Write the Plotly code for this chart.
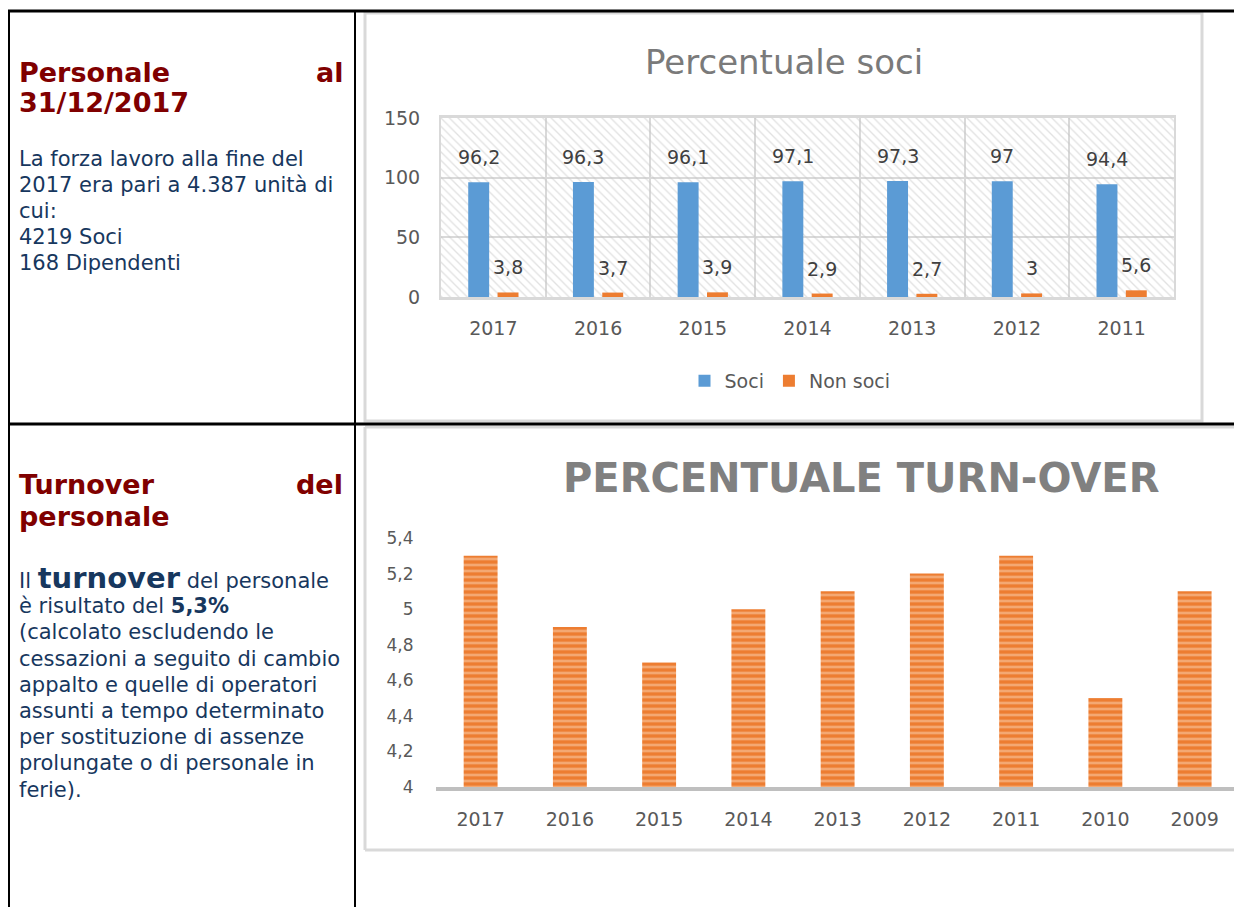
import plotly.graph_objects as go

# ---------------- data ----------------
soci_years = ["2017", "2016", "2015", "2014", "2013", "2012", "2011"]
soci_values = [96.2, 96.3, 96.1, 97.1, 97.3, 97, 94.4]
non_soci_values = [3.8, 3.7, 3.9, 2.9, 2.7, 3, 5.6]
soci_ticks = [0, 50, 100, 150]

turn_years = ["2017", "2016", "2015", "2014", "2013", "2012", "2011", "2010", "2009"]
turn_values = [5.3, 4.9, 4.7, 5.0, 5.1, 5.2, 5.3, 4.5, 5.1]
turn_ticks = [4, 4.2, 4.4, 4.6, 4.8, 5, 5.2, 5.4]

W, H = 1234, 907


def px(x):
    return min(max(x / W, 0), 1)


def py(y):
    return min(max(1 - y / H, 0), 1)


def fmt(v):
    return f"{v:g}".replace(".", ",")


FONT = "DejaVu Sans"
GRAY_TXT = "#595959"
GRID = "#D9D9D9"
BLUE = "#5B9BD5"
ORANGE = "#ED7D31"

fig = go.Figure()

# hatched plot-area background of the first chart
fig.add_trace(go.Bar(
    x=soci_years, y=[max(soci_ticks)] * len(soci_years),
    width=1, offset=-0.5, showlegend=False, hoverinfo="skip",
    marker=dict(color="rgba(0,0,0,0)", line=dict(width=0),
                pattern=dict(shape="\\", fgcolor="#C4C4C4", bgcolor="rgba(0,0,0,0)",
                             size=6, solidity=0.22)),
    xaxis="x", yaxis="y",
))
fig.add_trace(go.Bar(
    x=soci_years, y=soci_values, name="Soci", width=0.2, offset=-0.24,
    marker=dict(color=BLUE, line=dict(width=0)), xaxis="x", yaxis="y",
))
fig.add_trace(go.Bar(
    x=soci_years, y=non_soci_values, name="Non soci", width=0.2, offset=0.04,
    marker=dict(color=ORANGE, line=dict(width=0)), xaxis="x", yaxis="y",
))

# turnover chart
fig.add_trace(go.Bar(
    x=turn_years, y=turn_values, showlegend=False,
    marker=dict(color=ORANGE, line=dict(width=0),
                pattern=dict(shape="-", fgcolor="#FBD3B4", bgcolor=ORANGE,
                             size=6, solidity=0.45)),
    xaxis="x2", yaxis="y2",
))

annotations = []
# data labels (positioned on the category index of the axis)
cat_px = (1174 - 441) / len(soci_years)
for i, v in enumerate(soci_values):
    annotations.append(dict(x=i, y=v, xref="x", yref="y", text=fmt(v), showarrow=False,
                            xshift=-0.14 * cat_px, yshift=25, yanchor="middle",
                            font=dict(family=FONT, size=19, color="#404040")))
for i, v in enumerate(non_soci_values):
    annotations.append(dict(x=i, y=v, xref="x", yref="y", text=fmt(v), showarrow=False,
                            xshift=0.14 * cat_px, yshift=25, yanchor="middle",
                            font=dict(family=FONT, size=19, color="#404040")))

# chart titles
annotations.append(dict(x=px(784), y=py(62), xref="paper", yref="paper", showarrow=False,
                        text="Percentuale soci", xanchor="center", yanchor="middle",
                        font=dict(family=FONT, size=34, color="#7A7A7A")))
annotations.append(dict(x=px(861), y=py(478), xref="paper", yref="paper", showarrow=False,
                        text="<b>PERCENTUALE TURN-OVER</b>", xanchor="center", yanchor="middle",
                        font=dict(family=FONT, size=40, color="#808080")))

# left column text
RED = "#800000"
NAVY = "#17375E"


def txt(x, y, t, size, color, anchor="left"):
    annotations.append(dict(x=px(x), y=py(y), xref="paper", yref="paper", showarrow=False,
                            text=t, xanchor=anchor, yanchor="middle",
                            font=dict(family=FONT, size=size, color=color)))


txt(17, 72, "<b>Personale</b>", 27, RED)
txt(345, 72, "<b>al</b>", 27, RED, "right")
txt(17, 102, "<b>31/12/2017</b>", 27, RED)
body1 = ["La forza lavoro alla fine del", "2017 era pari a 4.387 unità di", "cui:",
         "4219 Soci", "168 Dipendenti"]
for i, line in enumerate(body1):
    txt(17, 159 + 26 * i, line, 21, NAVY)

txt(17, 484, "<b>Turnover</b>", 27, RED)
txt(345, 484, "<b>del</b>", 27, RED, "right")
txt(17, 516, "<b>personale</b>", 27, RED)
body2 = ["Il <b><span style='font-size:29px'>turnover</span></b> del personale",
         "è risultato del <b>5,3%</b>",
         "(calcolato escludendo le", "cessazioni a seguito di cambio",
         "appalto e quelle di operatori", "assunti a tempo determinato",
         "per sostituzione di assenze", "prolungate o di personale in", "ferie)."]
for i, line in enumerate(body2):
    txt(17, 578 + 26.2 * i + (2 if i else 0), line, 21, NAVY)

shapes = []


def line(x0, y0, x1, y1, color="black", width=2):
    shapes.append(dict(type="line", xref="paper", yref="paper", x0=px(x0), y0=py(y0),
                       x1=px(x1), y1=py(y1), line=dict(color=color, width=width)))


def rect(x0, y0, x1, y1, color=GRID, width=3):
    shapes.append(dict(type="rect", xref="paper", yref="paper", x0=px(x0), y0=py(y0),
                       x1=px(x1), y1=py(y1), line=dict(color=color, width=width),
                       fillcolor="rgba(0,0,0,0)", layer="below"))


rect(365, 13, 1202, 421)
line(365, 427, 1234, 427, color=GRID, width=3)
line(365, 427, 365, 850, color=GRID, width=3)
line(365, 850, 1234, 850, color=GRID, width=3)
line(8, 11, 1234, 11, width=3)
line(8, 424, 1234, 424, width=3)
line(9, 10, 9, 907, width=2)
line(355, 10, 355, 907, width=2)

axis_common = dict(automargin=False, fixedrange=True, ticks="outside",
                   tickcolor="rgba(0,0,0,0)")

fig.update_layout(
    width=W, height=H, margin=dict(l=0, r=0, t=0, b=0, pad=0, autoexpand=False),
    paper_bgcolor="white", plot_bgcolor="rgba(0,0,0,0)",
    barmode="overlay", separators=",.",
    font=dict(family=FONT, color=GRAY_TXT),
    annotations=annotations, shapes=shapes,
    legend=dict(orientation="h", x=px(790), y=py(381), xanchor="center", yanchor="middle",
                font=dict(family=FONT, size=19, color=GRAY_TXT), itemwidth=30,
                bgcolor="rgba(0,0,0,0)"),
    xaxis=dict(domain=[px(441), px(1174)], anchor="y", type="category",
               categoryorder="array", categoryarray=soci_years,
               range=[-0.5, len(soci_years) - 0.5], tickson="boundaries",
               showgrid=True, gridcolor=GRID, gridwidth=2,
               showline=True, mirror=True, linecolor=GRID, linewidth=3, ticklen=5,
               ticklabelstandoff=12,
               tickfont=dict(family=FONT, size=19, color=GRAY_TXT), **axis_common),
    yaxis=dict(domain=[py(297), py(118)], anchor="x", range=[min(soci_ticks), max(soci_ticks)],
               tickvals=soci_ticks, showgrid=True, gridcolor=GRID, gridwidth=2,
               zeroline=False, showline=True, mirror=True, linecolor=GRID, linewidth=2,
               ticklen=15, tickfont=dict(family=FONT, size=19, color=GRAY_TXT), **axis_common),
    xaxis2=dict(domain=[px(436), 1], anchor="y2", type="category",
                categoryorder="array", categoryarray=turn_years,
                range=[-0.5, -0.5 + (W - 436) / ((1195 - 481) / 8)],
                showgrid=False, showline=True, linecolor="#BFBFBF", linewidth=4,
                ticklen=12, tickfont=dict(family=FONT, size=19, color=GRAY_TXT), **axis_common),
    yaxis2=dict(domain=[py(787), py(538)], anchor="x2", range=[min(turn_ticks), max(turn_ticks)],
                tickvals=turn_ticks, showgrid=False, zeroline=False, showline=False,
                ticklen=18, tickfont=dict(family=FONT, size=17, color=GRAY_TXT), **axis_common),
    bargap=0.62,
)

fig.write_html("out.html", config={"displayModeBar": False},
               post_script="document.body.style.margin='0';document.body.style.overflow='hidden';")
